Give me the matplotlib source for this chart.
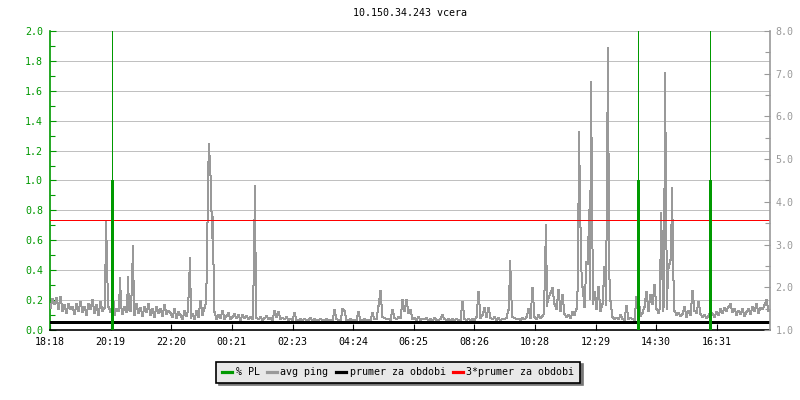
import numpy as np
import matplotlib.pyplot as plt
from matplotlib.lines import Line2D

plt.rcParams['font.family'] = 'DejaVu Sans Mono'
plt.rcParams['font.size'] = 7.2

title = '10.150.34.243 vcera'
xtick_labels = ['18:18', '20:19', '22:20', '00:21', '02:23', '04:24',
                '06:25', '08:26', '10:28', '12:29', '14:30', '16:31']
xtick_min = [0, 121, 242, 363, 485, 606, 727, 848, 970, 1091, 1212, 1333]

# avg ping [ms], one value per 4 minutes, starting 18:18
base_ping = [
    1.52, 1.72, 1.60, 1.75, 1.50, 1.78, 1.45, 1.58, 1.40, 1.62, 1.48, 1.55, 1.38, 1.60, 1.45, 1.66, 1.42, 1.55, 1.36, 1.62,
    1.48, 1.70, 1.40, 1.58, 1.35, 1.65, 1.45, 1.52, 1.38, 1.55, 1.42, 1.60, 1.35, 1.50, 1.45, 1.62, 1.38, 1.55, 1.42, 1.48,
    1.45, 1.58, 1.35, 1.62, 1.40, 1.52, 1.33, 1.55, 1.42, 1.60, 1.36, 1.48, 1.30, 1.55, 1.40, 1.50, 1.33, 1.58, 1.38, 1.45,
    1.40, 1.30, 1.48, 1.28, 1.42, 1.35, 1.25, 1.45, 1.32, 1.50, 1.28, 1.38, 1.26, 1.44, 1.30, 1.69, 1.35, 1.52, 1.69, 1.40,
    1.38, 1.30, 1.42, 1.25, 1.35, 1.28, 1.45, 1.26, 1.33, 1.40, 1.25, 1.30, 1.38, 1.27, 1.34, 1.24, 1.36, 1.29, 1.32, 1.25,
    1.30, 1.26, 1.24, 1.28, 1.25, 1.30, 1.23, 1.27, 1.32, 1.25, 1.28, 1.24, 1.45, 1.30, 1.42, 1.26, 1.28, 1.25, 1.30, 1.24,
    1.26, 1.22, 1.40, 1.24, 1.22, 1.25, 1.23, 1.26, 1.22, 1.24, 1.27, 1.22, 1.25, 1.23, 1.22, 1.26, 1.24, 1.22, 1.25, 1.23,
    1.24, 1.22, 1.47, 1.25, 1.23, 1.22, 1.48, 1.45, 1.24, 1.22, 1.25, 1.23, 1.22, 1.24, 1.42, 1.23, 1.22, 1.25, 1.23, 1.22,
    1.24, 1.39, 1.26, 1.25, 1.56, 1.91, 1.30, 1.28, 1.26, 1.25, 1.24, 1.47, 1.28, 1.25, 1.30, 1.28, 1.70, 1.45, 1.71, 1.40,
    1.47, 1.25, 1.28, 1.24, 1.30, 1.22, 1.26, 1.25, 1.28, 1.23, 1.25, 1.22, 1.27, 1.24, 1.22, 1.26, 1.35, 1.25, 1.23, 1.25,
    1.22, 1.25, 1.23, 1.26, 1.22, 1.24, 1.66, 1.25, 1.23, 1.26, 1.22, 1.25, 1.24, 1.30, 1.90, 1.28, 1.35, 1.52, 1.30, 1.52,
    1.28, 1.25, 1.30, 1.24, 1.27, 1.23, 1.26, 1.25, 1.28, 1.47, 1.30, 1.30, 1.28, 1.25, 1.26, 1.24, 1.27, 1.25, 1.30, 1.49,
    1.28, 1.98, 1.30, 1.25, 1.35, 1.28, 1.32, 1.40, 1.55, 1.75, 1.87, 1.98, 1.60, 1.50, 1.93, 1.45, 1.83, 1.38, 1.30, 1.35,
    1.28, 1.42, 1.35, 1.50, 2.29, 1.65, 2.00, 1.55, 2.60, 2.55, 1.73, 1.60, 1.88, 1.50, 2.00, 1.45, 1.62, 2.48, 1.58, 1.68,
    1.68, 1.30, 1.26, 1.28, 1.25, 1.35, 1.26, 1.24, 1.56, 1.25, 1.28, 1.26, 1.24, 1.78, 1.79, 1.32, 1.40, 1.55, 1.90, 1.45,
    1.82, 1.60, 2.05, 1.50, 1.40, 1.55, 1.45, 1.60, 1.50, 2.45, 2.64, 1.73, 1.45, 1.35, 1.40, 1.32, 1.38, 1.55, 1.30, 1.45,
    1.35, 1.91, 1.45, 1.40, 1.66, 1.38, 1.30, 1.35, 1.28, 1.32, 1.45, 1.38, 1.30, 1.42, 1.35, 1.48, 1.40, 1.52, 1.45, 1.55,
    1.61, 1.42, 1.50, 1.35, 1.45, 1.38, 1.48, 1.32, 1.42, 1.50, 1.38, 1.55, 1.45, 1.60, 1.40, 1.52, 1.48, 1.58, 1.70, 1.45,
]

# short spikes of avg ping: minute after 18:18, value [ms]
spike_t = [112, 114, 126, 140, 156, 164, 166, 278, 280,
           314, 316, 318, 320, 322, 324, 326, 408, 410,
           920, 922, 990, 992, 1058, 1060, 1062, 1078, 1082, 1084,
           1114, 1116, 1118, 1222, 1224, 1230, 1232, 1244, 1246]
spike_v = [3.53, 2.66, 2.00, 2.22, 2.25, 2.15, 2.97, 2.00, 2.69,
           2.50, 4.54, 5.36, 4.82, 4.40, 3.15, 3.65, 2.85, 4.37,
           2.62, 2.11, 2.41, 3.46, 5.64, 4.09, 2.72, 3.81, 6.81, 4.09,
           4.51, 7.60, 2.69, 3.75, 2.93, 7.01, 4.12, 4.32, 2.87]

# packet loss [%]
pl_t = [124, 1176, 1320]
pl_v = [1.0, 1.0, 1.0]
pl_top = [2.0, 2.0, 2.0]

avg_ping = 1.19

green = '#009900'
gray = '#999999'
px = 0.72  # one pixel in points

t = np.arange(0, 1440, 2)
ping = np.repeat(np.array(base_ping), 2)
for tt, v in zip(spike_t, spike_v):
    ping[tt // 2] = v

fig = plt.figure(figsize=(8, 4), dpi=100)
ax = fig.add_axes([0.0625, 0.175, 0.9, 0.7475])
ax2 = ax.twinx()
ax3 = ax.twinx()

# left axis: grid + PL scale
ax.set_xlim(0, 1440)
ax.set_ylim(0, 2.0)
ax.set_yticks(np.arange(0, 2.01, 0.2))
ax.set_yticks(np.arange(0, 2.01, 0.1), minor=True)
ax.set_yticklabels(['%.1f' % v for v in np.arange(0, 2.01, 0.2)])
ax.grid(axis='y', color='#c0c0c0', lw=px, antialiased=False)
ax.tick_params(axis='y', which='both', direction='in', colors=green, labelcolor=green, width=0.8, pad=5)
ax.tick_params(axis='y', which='major', length=4)
ax.tick_params(axis='y', which='minor', length=3.5)
ax.set_xticks(xtick_min)
ax.set_xticklabels(xtick_labels)
ax.tick_params(axis='x', direction='in', length=4.5, width=0.8, colors='k', pad=5)
ax.spines['left'].set_color(green)
ax.spines['left'].set_linewidth(1.2)
ax.spines['bottom'].set_linewidth(1.2)
ax.spines['top'].set_visible(False)
ax.spines['right'].set_visible(False)

# right axis: avg ping
ax2.set_ylim(1.0, 8.0)
ax2.set_yticks(np.arange(1.0, 8.01, 1.0))
ax2.set_yticks(np.arange(1.0, 8.01, 0.5), minor=True)
ax2.set_yticklabels(['%.1f' % v for v in np.arange(1.0, 8.01, 1.0)])
ax2.tick_params(axis='y', which='both', direction='in', colors=gray, labelcolor=gray, width=0.8, pad=4)
ax2.tick_params(axis='y', which='major', length=4)
ax2.tick_params(axis='y', which='minor', length=3.5)
for s in ['left', 'top', 'bottom']:
    ax2.spines[s].set_visible(False)
ax2.spines['right'].set_color(gray)
ax2.spines['right'].set_linewidth(1.2)

ax2.plot(t, ping, color=gray, lw=px, antialiased=False)
ax2.axhline(avg_ping, color='k', lw=3 * px, antialiased=False)
ax2.axhline(3 * avg_ping, color='red', lw=px, antialiased=False)

# PL on top
ax3.set_ylim(0, 2.0)
ax3.axis('off')
ax3.vlines(pl_t, 0, pl_top, color=green, lw=px, antialiased=False)
ax3.vlines(pl_t, 0, pl_v, color=green, lw=3 * px, antialiased=False)

fig.text(0.5125, 0.9675, title, ha='center', va='center', fontsize=7.2)

handles = [Line2D([], [], color=green, lw=2.3),
           Line2D([], [], color=gray, lw=2.3),
           Line2D([], [], color='k', lw=2.3),
           Line2D([], [], color='red', lw=2.3)]
labels = ['% PL', 'avg ping', 'prumer za obdobi', '3*prumer za obdobi']
leg = fig.legend(handles, labels, loc='center', bbox_to_anchor=(0.4975, 0.07),
                 ncol=4, fontsize=7.2, handlelength=1.0, handletextpad=0.4,
                 columnspacing=0.7, borderpad=0.55, fancybox=False,
                 shadow={'facecolor': '#777777', 'edgecolor': '#777777', 'alpha': 1},
                 framealpha=1, edgecolor='k', facecolor='#e8e8e8')
leg.get_frame().set_linewidth(1.2)

fig.savefig('out.png', dpi=100)
